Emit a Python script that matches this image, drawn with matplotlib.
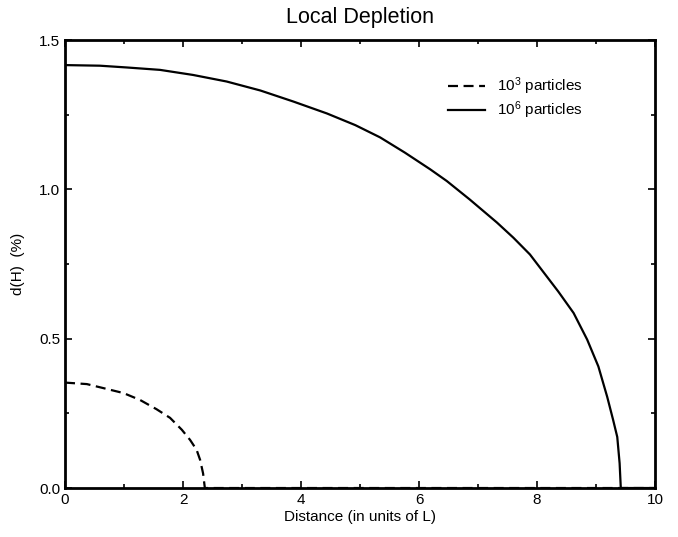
import matplotlib
matplotlib.use("Agg")
import matplotlib.pyplot as plt
from matplotlib.ticker import MultipleLocator

plt.rcParams['font.family'] = ['Liberation Sans', 'DejaVu Sans']
plt.rcParams['mathtext.default'] = 'regular'

# 10^3 particles (dashed)
x_1e3 = [0.0, 0.37, 0.64, 0.99, 1.27, 1.55, 1.78, 1.98, 2.12, 2.23, 2.29, 2.34, 2.37, 10.0]
y_1e3 = [0.353, 0.348, 0.335, 0.318, 0.295, 0.264, 0.235, 0.195, 0.161, 0.128, 0.094, 0.049, 0.0, 0.0]

# 10^6 particles (solid)
x_1e6 = [0.0, 0.59, 1.05, 1.61, 2.17, 2.74, 3.31, 3.87, 4.44, 4.92, 5.34, 5.76, 6.19, 6.47,
         6.86, 7.32, 7.60, 7.88, 8.36, 8.62, 8.85, 9.04, 9.19, 9.29, 9.36, 9.40, 9.42, 10.0]
y_1e6 = [1.416, 1.414, 1.408, 1.400, 1.383, 1.361, 1.331, 1.294, 1.254, 1.215, 1.174, 1.123, 1.067, 1.028,
         0.966, 0.889, 0.838, 0.782, 0.658, 0.586, 0.497, 0.407, 0.305, 0.228, 0.171, 0.083, 0.0, 0.0]

labels = [r'10$^3$ particles', r'10$^6$ particles']
x_ticks = [0, 2, 4, 6, 8, 10]
y_ticks = [0.0, 0.5, 1.0, 1.5]

fig = plt.figure(figsize=(6.78, 5.37), dpi=100)
ax = fig.add_axes([0.0959, 0.0912, 0.8702, 0.8343])

ax.plot(x_1e3, y_1e3, color='black', lw=1.6, ls=(0, (4.5, 2.5)), label=labels[0])
ax.plot(x_1e6, y_1e6, color='black', lw=1.6, ls='-', label=labels[1])

ax.set_xlim(0, 10)
ax.set_ylim(0, 1.5)
ax.set_xticks(x_ticks)
ax.set_xticklabels([str(t) for t in x_ticks])
ax.set_yticks(y_ticks)
ax.set_yticklabels([f'{t:.1f}' for t in y_ticks])
ax.xaxis.set_minor_locator(MultipleLocator(1))
ax.yaxis.set_minor_locator(MultipleLocator(0.25))
ax.tick_params(which='both', direction='in', top=True, right=True, labelsize=11, width=1.2)
ax.tick_params(which='major', length=5)
ax.tick_params(which='minor', length=3)
for s in ax.spines.values():
    s.set_linewidth(2)

ax.set_title('Local Depletion', fontsize=15.5, pad=12)
ax.set_xlabel('Distance (in units of L)', fontsize=11, labelpad=2)
ax.set_ylabel('d(H)  (%)', fontsize=11, labelpad=10)

ax.legend(loc='upper left', bbox_to_anchor=(0.649, 0.92), frameon=False, fontsize=11,
          borderaxespad=0, borderpad=0,
          handlelength=2.4, handletextpad=0.8, labelspacing=0.15)

fig.savefig('out.png', dpi=100)
